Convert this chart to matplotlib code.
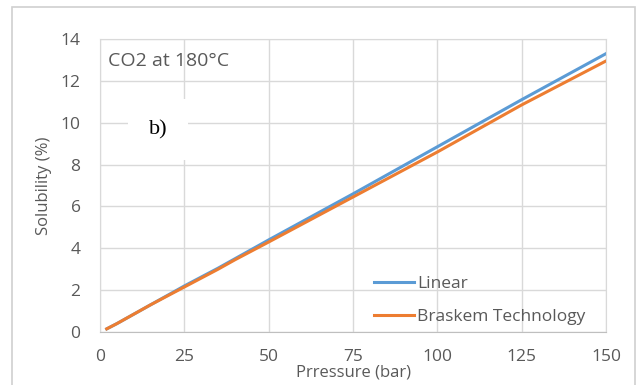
import matplotlib.pyplot as plt
from matplotlib.patches import Rectangle

# Data
pressure = [2, 5, 15, 25, 35, 40, 50, 75, 100, 125, 150]
linear = [0.15, 0.4, 1.3, 2.2, 3.05, 3.5, 4.4, 6.6, 8.85, 11.1, 13.3]
braskem = [0.15, 0.4, 1.3, 2.15, 3.0, 3.45, 4.3, 6.45, 8.6, 10.85, 12.95]
x_ticks = [0, 25, 50, 75, 100, 125, 150]
y_ticks = [0, 2, 4, 6, 8, 10, 12, 14]

plt.rcParams['font.family'] = ['Open Sans', 'DejaVu Sans']
text_color = '#595959'
grid_color = '#d9d9d9'

fig = plt.figure(figsize=(6.36, 3.85), dpi=100)
ax = fig.add_axes([100 / 636, 53 / 385, 506 / 636, 293 / 385])

# outer chart border like the spreadsheet frame
fig.patches.append(Rectangle((12 / 636, -0.05), 623 / 636, 1.05 - 7 / 385,
                             transform=fig.transFigure, fill=False,
                             edgecolor='#d0d0d0', linewidth=1.2))

ax.plot(pressure, linear, color='#5b9bd5', linewidth=2.2, label='Linear')
ax.plot(pressure, braskem, color='#ed7d31', linewidth=2.2, label='Braskem Technology')

ax.set_xlim(0, 150)
ax.set_ylim(0, 14)
ax.set_xticks(x_ticks)
ax.set_yticks(y_ticks)
ax.grid(True, color=grid_color, linewidth=1)
ax.set_axisbelow(True)
ax.tick_params(axis='x', length=0, labelsize=12.5, colors=text_color, pad=12)
ax.tick_params(axis='y', length=0, labelsize=12.5, colors=text_color, pad=14)
for side in ['top', 'right', 'left']:
    ax.spines[side].set_color(grid_color)
ax.spines['bottom'].set_color('#bfbfbf')

ax.set_xlabel('Prressure (bar)', fontsize=12, color=text_color, labelpad=0)
ax.set_ylabel('Solubility (%)', fontsize=12, color=text_color, labelpad=6)

ax.text(0.015, 0.955, 'CO2 at 180°C', transform=ax.transAxes, fontsize=14,
        color=text_color, va='top', ha='left')
ax.text(0.115, 0.69, 'b)', transform=ax.transAxes, fontsize=16,
        family='Liberation Serif', color='black', va='center', ha='center',
        bbox=dict(facecolor='white', edgecolor='none', pad=15))

leg = ax.legend(loc='lower left', bbox_to_anchor=(0.51, -0.03), frameon=False,
                fontsize=12.5, labelspacing=1.0, handlelength=2.3,
                handletextpad=0.2)
for t in leg.get_texts():
    t.set_color(text_color)

fig.savefig('out.png', dpi=100)
